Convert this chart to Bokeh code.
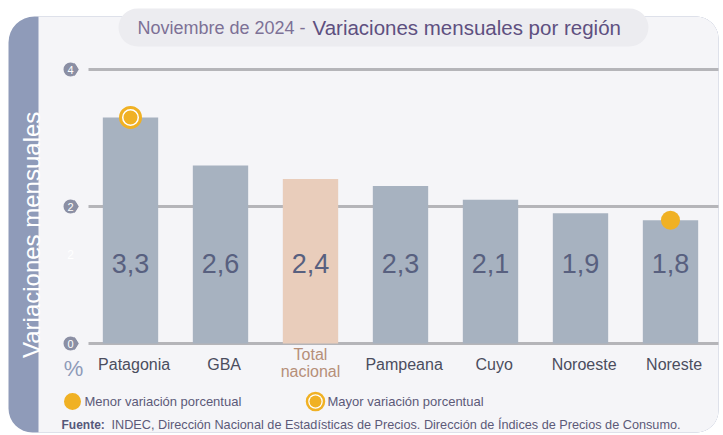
import math
from bokeh.plotting import figure
from bokeh.models import Range1d, ColumnDataSource
from bokeh.core.properties import value
from bokeh.embed import file_html
from bokeh.resources import INLINE

# ---- data ----
categories = ["Patagonia", "GBA", "Total nacional", "Pampeana", "Cuyo", "Noroeste", "Noreste"]
values = [3.3, 2.6, 2.4, 2.3, 2.1, 1.9, 1.8]
value_labels = ["3,3", "2,6", "2,4", "2,3", "2,1", "1,9", "1,8"]
y_ticks = [0, 2, 4]
max_region = "Patagonia"
min_region = "Noreste"

title_a = "Noviembre de 2024 -"
title_b = "Variaciones mensuales por región"
y_title = "Variaciones  mensuales"
legend_min = "Menor variación porcentual"
legend_max = "Mayor variación porcentual"
source_bold = "Fuente:"
source_text = "INDEC, Dirección Nacional de Estadísticas de Precios. Dirección de Índices de Precios de Consumo."

# ---- styles ----
W, H = 723, 435
BAR = "#a7b2c0"
BAR_TOTAL = "#e9cdbb"
ORANGE = "#f0b124"
BAND = "#8f9bb9"
CARD = "#f5f5f8"
PILL = "#ececf0"
FONT = value("Liberation Sans")

# pixel -> data helpers (layout only)
X0, DX = 130.0, 90.0
Y0, DY = 343.0, 68.5
def px(x):
    return (x - X0) / DX
def py(y):
    return (Y0 - y) / DY

p = figure(width=W, height=H, x_range=Range1d(px(0), px(W)), y_range=Range1d(py(H), py(0)),
           x_axis_type=None, y_axis_type=None, toolbar_location=None, output_backend="svg",
           min_border=0, outline_line_color=None, background_fill_color="white",
           border_fill_color="white")
p.grid.visible = False

# card background
p.quad(left=px(8), right=px(718), top=py(16), bottom=py(432), fill_color=BAND, line_color=None,
       border_radius=(26, 22, 22, 24))
p.quad(left=px(38), right=px(718), top=py(16), bottom=py(432), fill_color=CARD, line_color=None,
       border_radius=(0, 22, 22, 0))
# title pill
p.quad(left=px(118), right=px(648), top=py(8), bottom=py(46), fill_color=PILL, line_color=None,
       border_radius=(19, 19, 19, 19))
p.text(x=[px(305)], y=[py(27)], text=[title_a], text_font=FONT, text_font_size="18px",
       text_color="#7d7196", text_align="right", text_baseline="middle")
p.text(x=[px(312)], y=[py(27)], text=[title_b], text_font=FONT, text_font_size="20.5px",
       text_color="#5e5080", text_align="left", text_baseline="middle")

# y title in band
p.text(x=[px(31)], y=[py(231)], text=[y_title], text_font=FONT, text_font_size="24px",
       text_color="white", text_align="center", text_baseline="middle", angle=math.pi / 2)

# gridlines
p.segment(x0=[px(88)] * len(y_ticks), x1=[px(718)] * len(y_ticks), y0=y_ticks, y1=y_ticks,
          line_color="#b5b5b9", line_width=3)
# tick badges
p.scatter(x=[px(74)] * len(y_ticks), y=y_ticks, marker="diamond", size=13, fill_color="#8b8fa4",
          line_color=None)
p.scatter(x=[px(70)] * len(y_ticks), y=y_ticks, marker="circle", size=14, fill_color="#8b8fa4",
          line_color=None)
p.text(x=[px(70)] * len(y_ticks), y=y_ticks, text=[str(t) for t in y_ticks], text_font=FONT,
       text_font_size="11px", text_color="white", text_align="center", text_baseline="middle")
p.text(x=[px(70)], y=[py(254)], text=["2"], text_font=FONT, text_font_size="12px",
       text_color="white", text_align="center", text_baseline="middle")

# bars
idx = list(range(len(categories)))
colors = [BAR_TOTAL if c == "Total nacional" else BAR for c in categories]
src = ColumnDataSource(dict(x=idx, top=values, color=colors, lab=value_labels))
p.vbar(x="x", top="top", bottom=0, width=0.615, fill_color="color", line_color=None, source=src)
p.text(x="x", y=py(263), text="lab", source=src, text_font=FONT, text_font_size="27px",
       text_color="#58607f", text_align="center", text_baseline="middle")

# category labels
for i, c in enumerate(categories):
    if c == "Total nacional":
        p.text(x=[i], y=[py(354)], text=["Total"], text_font=FONT, text_font_size="16px",
               text_color="#b68f78", text_align="center", text_baseline="middle")
        p.text(x=[i], y=[py(371)], text=["nacional"], text_font=FONT, text_font_size="16px",
               text_color="#b68f78", text_align="center", text_baseline="middle")
    else:
        p.text(x=[i + 0.04], y=[py(364)], text=[c], text_font=FONT, text_font_size="16px",
               text_color="#4b4d5e", text_align="center", text_baseline="middle")
p.text(x=[px(73)], y=[py(368)], text=["%"], text_font=FONT, text_font_size="22px",
       text_color="#8f9bb9", text_align="center", text_baseline="middle")

# highlight markers
imax = categories.index(max_region)
imin = categories.index(min_region)
p.scatter(x=[imax], y=[values[imax]], size=20, fill_color="white", line_color=ORANGE, line_width=3)
p.scatter(x=[imax], y=[values[imax]], size=14, fill_color=ORANGE, line_color=None)
p.scatter(x=[imin], y=[values[imin]], size=19, fill_color=ORANGE, line_color=None)

# legend
p.scatter(x=[px(72)], y=[py(401)], size=17, fill_color=ORANGE, line_color=None)
p.text(x=[px(84)], y=[py(401)], text=[legend_min], text_font=FONT, text_font_size="13px",
       text_color="#5c5a78", text_align="left", text_baseline="middle")
p.scatter(x=[px(315)], y=[py(401)], size=17, fill_color="white", line_color=ORANGE, line_width=2.5)
p.scatter(x=[px(315)], y=[py(401)], size=12, fill_color=ORANGE, line_color=None)
p.text(x=[px(327)], y=[py(401)], text=[legend_max], text_font=FONT, text_font_size="13px",
       text_color="#5c5a78", text_align="left", text_baseline="middle")

# source
p.text(x=[px(61)], y=[py(424)], text=[source_bold], text_font=FONT, text_font_size="12px",
       text_font_style="bold", text_color="#55587a", text_align="left", text_baseline="middle")
p.text(x=[px(111)], y=[py(424)], text=[source_text], text_font=FONT, text_font_size="12.7px",
       text_color="#5c5a78", text_align="left", text_baseline="middle")

open("out.html", "w").write(file_html(p, INLINE))
